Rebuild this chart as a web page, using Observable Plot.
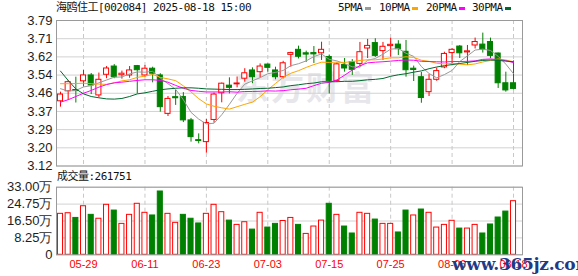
<!DOCTYPE html>
<html>
<head>
<meta charset="utf-8">
<script src="https://cdn.jsdelivr.net/npm/d3@7"></script>
<script src="https://cdn.jsdelivr.net/npm/@observablehq/plot@0.6"></script>
<style>
  html, body { margin: 0; padding: 0; background: #fff; }
  #chart { position: relative; width: 578px; height: 276px; overflow: hidden; background: #fff; }
  #chart svg { position: absolute; left: 0; }
  .txt { position: absolute; white-space: nowrap; font-family: "DejaVu Sans Mono", "Noto Sans CJK SC", monospace; font-size: 11px; color: #111; line-height: 14px; letter-spacing: -0.5px; }
  .sw { position: absolute; width: 6px; height: 3px; }
  .wm { position: absolute; white-space: nowrap; }
</style>
</head>
<body>
<div id="chart"></div>
<script>
// 海鸥住工 (002084) daily K-line, 2025-05-26 .. 2025-08-18
const dates = [
  "05-26","05-27","05-28","05-29","05-30","06-03","06-04","06-05","06-06","06-09",
  "06-10","06-11","06-12","06-13","06-16","06-17","06-18","06-19","06-20","06-23",
  "06-24","06-25","06-26","06-27","06-30","07-01","07-02","07-03","07-04","07-07",
  "07-08","07-09","07-10","07-11","07-14","07-15","07-16","07-17","07-18","07-21",
  "07-22","07-23","07-24","07-25","07-28","07-29","07-30","07-31","08-01","08-04",
  "08-05","08-06","08-07","08-08","08-11","08-12","08-13","08-14","08-15","08-18"
];
const opens = [
  3.418,3.464,3.470,3.510,3.537,3.445,3.540,3.578,3.538,3.537,
  3.580,3.537,3.568,3.537,3.360,3.437,3.438,3.330,3.239,3.230,
  3.332,3.455,3.490,3.496,3.522,3.560,3.552,3.587,3.560,3.529,
  3.632,3.655,3.639,3.640,3.639,3.622,3.512,3.585,3.598,3.590,
  3.661,3.686,3.649,3.672,3.679,3.646,3.568,3.529,3.460,3.517,
  3.574,3.640,3.670,3.643,3.675,3.679,3.691,3.638,3.501,3.501
];
const highs = [
  3.460,3.514,3.529,3.560,3.546,3.548,3.578,3.587,3.557,3.578,
  3.583,3.583,3.575,3.545,3.440,3.468,3.458,3.339,3.268,3.334,
  3.456,3.502,3.526,3.530,3.568,3.572,3.590,3.590,3.575,3.602,
  3.644,3.672,3.649,3.670,3.690,3.631,3.595,3.615,3.610,3.689,
  3.703,3.706,3.689,3.708,3.697,3.698,3.580,3.551,3.541,3.571,
  3.644,3.660,3.675,3.675,3.709,3.732,3.709,3.640,3.552,3.604
];
const lows = [
  3.391,3.422,3.410,3.484,3.449,3.434,3.522,3.522,3.520,3.524,
  3.452,3.528,3.503,3.368,3.348,3.399,3.320,3.230,3.222,3.179,
  3.317,3.411,3.452,3.480,3.506,3.499,3.526,3.552,3.517,3.521,
  3.575,3.613,3.597,3.592,3.606,3.452,3.505,3.552,3.537,3.576,
  3.615,3.620,3.606,3.621,3.629,3.529,3.509,3.409,3.440,3.510,
  3.568,3.592,3.615,3.583,3.659,3.640,3.614,3.477,3.460,3.470
];
const closes = [
  3.449,3.506,3.465,3.537,3.491,3.517,3.569,3.529,3.545,3.560,
  3.561,3.568,3.545,3.391,3.429,3.432,3.330,3.253,3.235,3.318,
  3.449,3.499,3.480,3.500,3.547,3.529,3.578,3.572,3.529,3.593,
  3.640,3.623,3.633,3.634,3.655,3.512,3.588,3.569,3.563,3.644,
  3.673,3.627,3.669,3.678,3.658,3.561,3.562,3.433,3.517,3.557,
  3.636,3.655,3.639,3.648,3.691,3.656,3.627,3.501,3.468,3.475
];
// 成交量 (手)
const volumes = [
  200000,203000,180000,237000,195000,176000,244000,216000,151000,195000,
  249000,205000,192000,309000,200000,156000,195000,176000,153000,200000,
  244000,208000,167000,146000,159000,123000,205000,133000,151000,165000,
  180000,146000,102000,138000,167000,249000,195000,138000,104000,205000,
  200000,172000,151000,151000,109000,216000,192000,221000,205000,133000,
  146000,166000,128000,128000,146000,104000,148000,182000,211000,261751
];
// moving averages as published with the quote
const ma5 = [
  3.476,3.465,3.468,3.484,3.490,3.503,3.516,3.529,3.530,3.544,
  3.553,3.552,3.556,3.525,3.499,3.473,3.425,3.367,3.336,3.314,
  3.317,3.356,3.404,3.455,3.497,3.512,3.527,3.545,3.551,3.560,
  3.582,3.591,3.604,3.624,3.636,3.611,3.604,3.591,3.577,3.575,
  3.607,3.615,3.635,3.658,3.661,3.639,3.625,3.578,3.546,3.526,
  3.541,3.560,3.601,3.627,3.654,3.658,3.652,3.625,3.589,3.545
];
const ma10 = [
  3.499,3.499,3.500,3.501,3.499,3.497,3.496,3.503,3.512,3.517,
  3.528,3.534,3.542,3.528,3.521,3.513,3.489,3.461,3.430,3.406,
  3.395,3.388,3.382,3.393,3.404,3.414,3.439,3.471,3.500,3.528,
  3.547,3.559,3.574,3.587,3.598,3.597,3.598,3.597,3.601,3.606,
  3.609,3.609,3.613,3.618,3.618,3.623,3.620,3.607,3.602,3.593,
  3.590,3.592,3.589,3.586,3.590,3.599,3.606,3.613,3.608,3.600
];
const ma20 = [
  3.414,3.425,3.440,3.455,3.468,3.483,3.495,3.503,3.506,3.510,
  3.514,3.517,3.517,3.514,3.506,3.491,3.478,3.468,3.464,3.461,
  3.461,3.461,3.462,3.460,3.463,3.463,3.464,3.466,3.465,3.467,
  3.471,3.474,3.478,3.490,3.501,3.505,3.516,3.538,3.562,3.582,
  3.595,3.598,3.600,3.603,3.606,3.608,3.607,3.602,3.601,3.600,
  3.599,3.601,3.601,3.602,3.604,3.611,3.613,3.610,3.605,3.596
];
const ma30 = [
  3.557,3.514,3.475,3.452,3.440,3.434,3.429,3.428,3.431,3.440,
  3.452,3.457,3.464,3.471,3.475,3.478,3.480,3.480,3.478,3.475,
  3.474,3.473,3.472,3.472,3.473,3.475,3.477,3.478,3.481,3.484,
  3.490,3.494,3.499,3.502,3.508,3.508,3.508,3.510,3.510,3.513,
  3.517,3.519,3.523,3.533,3.540,3.545,3.552,3.558,3.568,3.576,
  3.582,3.587,3.592,3.597,3.602,3.606,3.608,3.606,3.603,3.600
];
const maNames = ["5PMA", "10PMA", "20PMA", "30PMA"];
const maColors = ["#9a9a9a", "#ffa500", "#ff00ff", "#006a2e"];

const dateTickLabels = ["05-29","06-11","06-23","07-03","07-15","07-25","08-06","08-18"];
const priceTickLabels = ["3.12","3.20","3.29","3.37","3.46","3.54","3.62","3.71","3.79"];
const priceRange = [3.12, 3.79];
const volumeTickValues = [0, 82500, 165000, 247500, 330000];
const volumeTickLabels = ["0", "8.25万", "16.50万", "24.75万", "33.00万"];

const stockName = "海鸥住工";
const stockCode = "002084";
const quoteTime = "2025-08-18 15:00";

// ---------------------------------------------------------------
const RED = "#ff0000", GREEN = "#008000";
const GRID = "#d2d2d2", FRAME = "#9a9a9a";
const n = dates.length;
const idx = d3.range(n);
const rows = idx.map(i => ({i, open: opens[i], high: highs[i], low: lows[i], close: closes[i], volume: volumes[i]}));
const candleUp = d => d.close > d.open;
const volumeUp = d => d.i === 0 ? d.close >= d.open : d.close >= closes[d.i - 1];
const half = 0.33;
const xDomain = [-0.52, n + 0.17];
const dateTicks = dateTickLabels.map(s => dates.indexOf(s));
const priceTicks = priceTickLabels.map((_, k) => priceRange[0] + k * (priceRange[1] - priceRange[0]) / (priceTickLabels.length - 1));

const baseStyle = {fontFamily: "'Liberation Sans', sans-serif", fontSize: "13px", color: "#1e1e1e", background: "transparent", overflow: "visible"};

const chart = document.getElementById("chart");

// watermark behind the panels
const wm = document.createElement("div");
wm.className = "wm";
wm.style.cssText = "left:236px;top:62px;font:bold 33px 'Noto Sans CJK SC';color:#e6e6eb;letter-spacing:2px;";
wm.textContent = "东方财富";
chart.appendChild(wm);

const mainPlot = Plot.plot({
  width: 578, height: 170,
  marginLeft: 56, marginRight: 56, marginTop: 20, marginBottom: 4.5,
  x: {domain: xDomain, axis: null},
  y: {domain: priceRange, axis: null},
  style: baseStyle,
  marks: [
    Plot.ruleY(priceTicks, {stroke: GRID}),
    Plot.ruleX(dateTicks, {stroke: "#c8c8c8", strokeDasharray: "4,3"}),
    Plot.axisY(priceTicks, {anchor: "left", label: null, tickSize: 0, tickPadding: 4, tickFormat: d => priceTickLabels[priceTicks.indexOf(d)]}),
    Plot.ruleX(rows, {x: "i", y1: "low", y2: "high", stroke: d => candleUp(d) ? RED : GREEN}),
    Plot.rect(rows, {
      x1: d => d.i - half, x2: d => d.i + half, y1: "open", y2: "close",
      fill: d => candleUp(d) ? "#ffffff" : GREEN,
      stroke: d => candleUp(d) ? RED : GREEN, strokeWidth: 1
    }),
    ...[ma5, ma10, ma20, ma30].map((ma, k) =>
      Plot.line(idx, {x: i => i, y: i => ma[i], stroke: maColors[k], strokeWidth: 1})),
    Plot.frame({stroke: FRAME})
  ]
});
mainPlot.style.top = "0px";
chart.appendChild(mainPlot);

const volumePlot = Plot.plot({
  width: 578, height: 106,
  marginLeft: 56, marginRight: 56, marginTop: 16.7, marginBottom: 21.7,
  x: {domain: xDomain, axis: null},
  y: {domain: [0, volumeTickValues[volumeTickValues.length - 1]], axis: null},
  style: baseStyle,
  marks: [
    Plot.ruleY(volumeTickValues, {stroke: GRID}),
    Plot.ruleX(dateTicks, {stroke: "#c8c8c8", strokeDasharray: "4,3"}),
    Plot.axisY(volumeTickValues, {anchor: "left", label: null, tickSize: 0, tickPadding: 4, tickFormat: d => volumeTickLabels[volumeTickValues.indexOf(d)]}),
    Plot.axisX(dateTicks, {anchor: "bottom", label: null, tickSize: 0, tickPadding: 5, color: RED, fontSize: 11, tickFormat: i => dates[i]}),
    Plot.rect(rows, {
      x1: d => d.i - half, x2: d => d.i + half, y1: 0, y2: "volume",
      fill: d => volumeUp(d) ? "#ffffff" : GREEN,
      stroke: d => volumeUp(d) ? RED : GREEN, strokeWidth: 1
    }),
    Plot.frame({stroke: FRAME})
  ]
});
volumePlot.style.top = "170px";
chart.appendChild(volumePlot);

// title, legend and volume caption
function addText(text, left, top) {
  const el = document.createElement("div");
  el.className = "txt";
  el.style.left = left + "px";
  el.style.top = top + "px";
  el.textContent = text;
  chart.appendChild(el);
  return el;
}
addText(`${stockName}[${stockCode}] ${quoteTime}`, 56, 1);

// legend: name followed by a short colour swatch
const legendLeft = [338, 379, 426, 472];
maNames.forEach((name, k) => {
  const label = addText(name, legendLeft[k], 1);
  const sw = document.createElement("div");
  sw.className = "sw";
  sw.style.background = maColors[k];
  sw.style.left = (legendLeft[k] + label.getBoundingClientRect().width + 2) + "px";
  sw.style.top = "7px";
  chart.appendChild(sw);
});

addText(`成交量:${volumes[n - 1]}`, 57, 170);

// site stamp in the lower right corner
const stamp = document.createElement("div");
stamp.className = "wm";
stamp.style.cssText = "left:452px;top:254px;font:bold 17px 'DejaVu Serif';color:#1d3b86;letter-spacing:-0.3px;";
stamp.textContent = "www.365jz.com";
chart.appendChild(stamp);
</script>
</body>
</html>
